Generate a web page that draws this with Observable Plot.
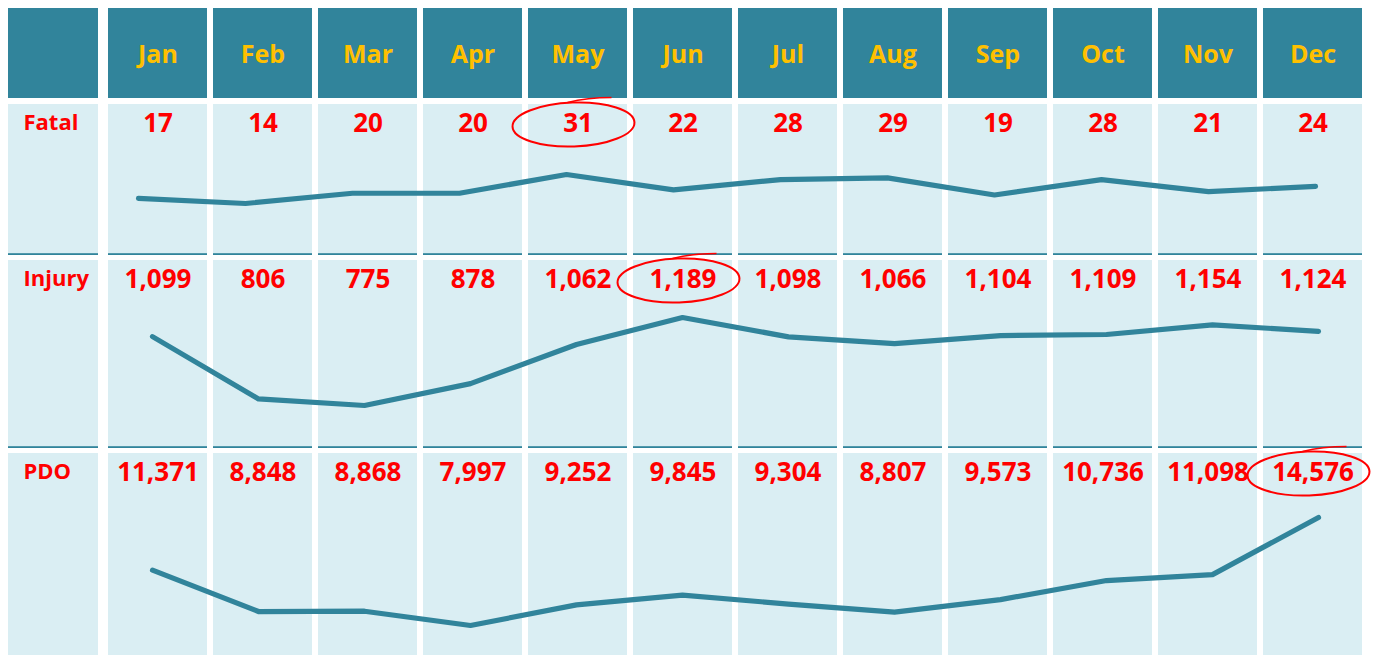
<!DOCTYPE html>
<html>
<head>
<meta charset="utf-8">
<script src="https://cdn.jsdelivr.net/npm/d3@7"></script>
<script src="https://cdn.jsdelivr.net/npm/@observablehq/plot@0.6"></script>
<style>
  html, body { margin: 0; padding: 0; background: #ffffff; }
  #chart { position: relative; width: 1373px; height: 655px; overflow: hidden; background: #ffffff; }
  #chart svg { position: absolute; left: 0; display: block; overflow: visible; }
</style>
</head>
<body>
<div id="chart"></div>
<script>
// ---- data ----
const months = ["Jan", "Feb", "Mar", "Apr", "May", "Jun", "Jul", "Aug", "Sep", "Oct", "Nov", "Dec"];
const rowLabels = ["Fatal", "Injury", "PDO"];
const fatal  = [17, 14, 20, 20, 31, 22, 28, 29, 19, 28, 21, 24];
const injury = [1099, 806, 775, 878, 1062, 1189, 1098, 1066, 1104, 1109, 1154, 1124];
const pdo    = [11371, 8848, 8868, 7997, 9252, 9845, 9304, 8807, 9573, 10736, 11098, 14576];

// ---- style ----
const W = 1373;
const TEAL = "#31849b";
const LIGHT = "#daeef3";
const GOLD = "#ffc000";
const RED = "#ff0000";
const FONT = "'Open Sans', 'Noto Sans', 'DejaVu Sans', sans-serif";
const fmt = d3.format(",");
const chart = document.getElementById("chart");

const monthX = {type: "band", domain: months, range: [104, 1366], paddingInner: 0.057, paddingOuter: 0, axis: null};
const labelX = (label) => ({type: "band", domain: [label], range: [8, 98], paddingInner: 0, paddingOuter: 0, axis: null});

function place(svg, top) {
  svg.style.top = top + "px";
  chart.appendChild(svg);
  return svg;
}

function cells(domain, fill, bottomLine, cellH) {
  const m = [Plot.cell(domain, {x: d => d, fill})];
  if (bottomLine) m.push(Plot.cell(domain, {x: d => d, fill: TEAL, insetTop: cellH - 1.8}));
  return m;
}

// ---- header row ----
place(Plot.plot({
  width: 104, height: 101, marginTop: 8, marginBottom: 3, marginLeft: 0, marginRight: 0,
  style: {background: "transparent"},
  x: labelX(""),
  marks: cells([""], TEAL, false, 90)
}), 0);
place(Plot.plot({
  width: W, height: 101, marginTop: 8, marginBottom: 3, marginLeft: 0, marginRight: 0,
  style: {background: "transparent"},
  x: monthX,
  marks: [
    ...cells(months, TEAL, false, 90),
    Plot.text(months, {
      x: d => d, frameAnchor: "middle", lineAnchor: "middle", textAnchor: "middle", dy: 1,
      fill: GOLD, fontSize: 25, fontWeight: "bold", fontFamily: FONT
    })
  ]
}), 0);

// ---- data rows ----
const rowsSpec = [
  {label: rowLabels[0], values: fatal,  top: 101, height: 157, mt: 3, mb: 3, line: true,
   sx: [138, 1315], sy: [102, 73]},
  {label: rowLabels[1], values: injury, top: 258, height: 192, mt: 2, mb: 2, line: true,
   sx: [147, 1323], sy: [147, 59]},
  {label: rowLabels[2], values: pdo,    top: 450, height: 205, mt: 3, mb: 0, line: false,
   sx: [147, 1323], sy: [175, 67]}
];

for (const r of rowsSpec) {
  const table = months.map((m, i) => ({month: m, value: r.values[i]}));
  const cellH = r.height - r.mt - r.mb;

  // row label cell
  place(Plot.plot({
    width: 104, height: r.height, marginTop: r.mt, marginBottom: r.mb, marginLeft: 0, marginRight: 0,
    style: {background: "transparent"},
    x: labelX(r.label),
    marks: [
      ...cells([r.label], LIGHT, r.line, cellH),
      Plot.text([r.label], {
        frameAnchor: "top-left", lineAnchor: "middle", textAnchor: "start", dx: 23, dy: 18,
        fill: RED, fontSize: 22, fontWeight: "bold", fontFamily: FONT
      })
    ]
  }), r.top);

  // month value cells
  const rowPlot = Plot.plot({
    width: W, height: r.height, marginTop: r.mt, marginBottom: r.mb, marginLeft: 0, marginRight: 0,
    style: {background: "transparent"},
    x: monthX,
    marks: [
      ...cells(months, LIGHT, r.line, cellH),
      Plot.text(table, {
        x: "month", text: d => fmt(d.value), frameAnchor: "top", lineAnchor: "middle", textAnchor: "middle",
        dy: 19.5, fill: RED, fontSize: 26, fontWeight: "bold", fontFamily: FONT
      })
    ]
  });
  place(rowPlot, r.top);

  // sparkline overlay
  const spark = Plot.plot({
    width: W, height: r.height, margin: 0,
    style: {background: "transparent"},
    x: {type: "point", domain: months, range: r.sx, padding: 0, axis: null},
    y: {type: "linear", domain: d3.extent(r.values), range: r.sy, axis: null},
    marks: [
      Plot.line(table, {
        x: "month", y: "value", stroke: TEAL, strokeWidth: 5.2,
        strokeLinecap: "round", strokeLinejoin: "round"
      })
    ]
  });
  place(spark, r.top);

  // hand-drawn style circle round the yearly maximum
  const xs = rowPlot.scale("x");
  const iMax = d3.maxIndex(r.values);
  const cx = xs.apply(months[iMax]) + xs.bandwidth / 2 - 4;
  const cy = r.mt + 19.5 + 1;
  const g = d3.select(spark).append("g")
    .attr("fill", "none").attr("stroke", RED).attr("stroke-width", 2);
  g.append("ellipse")
    .attr("cx", cx).attr("cy", cy).attr("rx", 61).attr("ry", 22)
    .attr("transform", `rotate(-2 ${cx} ${cy})`);
  g.append("path")
    .attr("stroke-width", 1.5)
    .attr("d", `M${cx - 6},${cy - 22} Q${cx + 14},${cy - 27} ${cx + 38},${cy - 27}`);
}
</script>
</body>
</html>
